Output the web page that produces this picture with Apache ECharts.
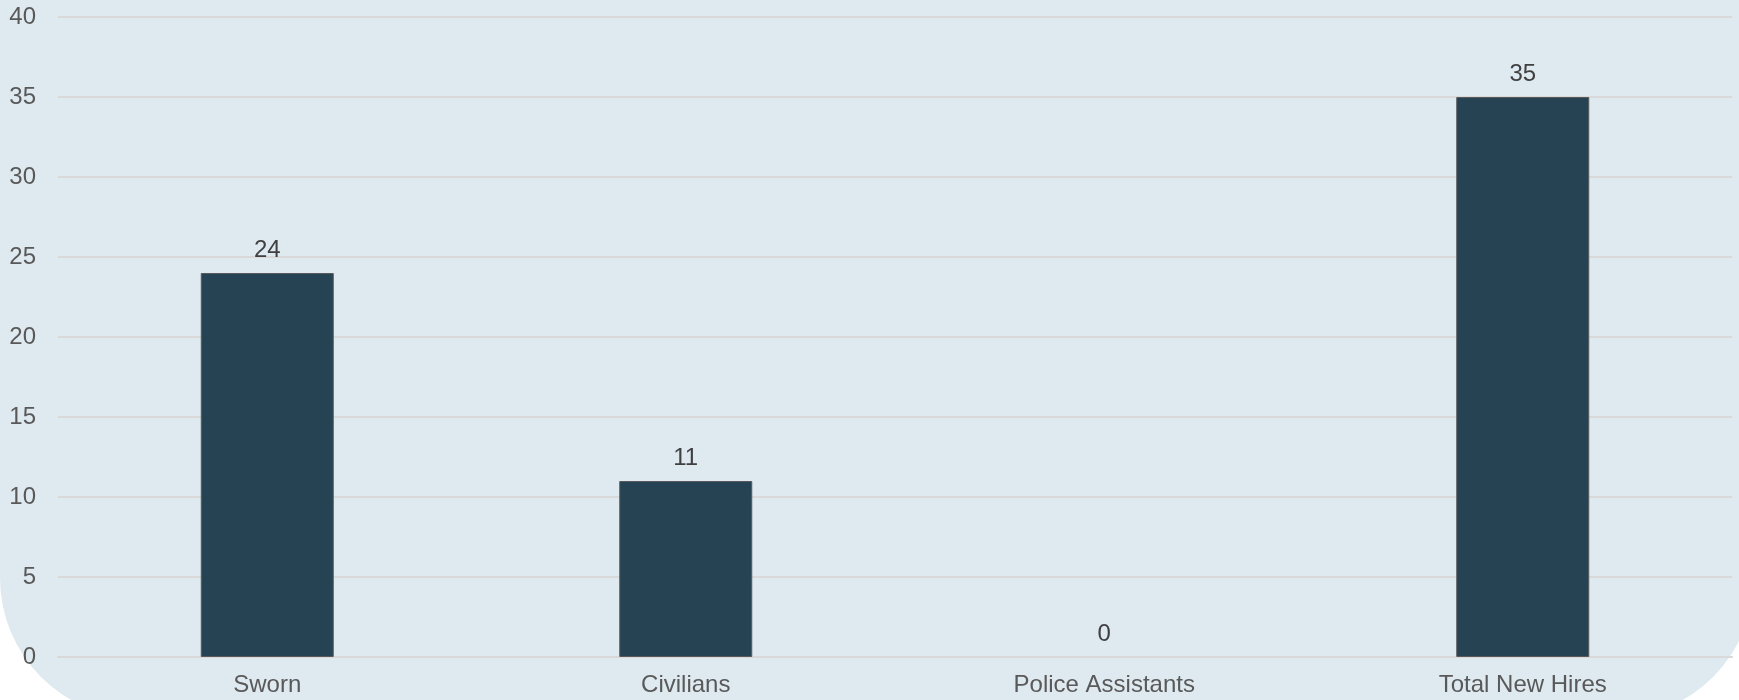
<!DOCTYPE html>
<html>
<head>
<meta charset="utf-8">
<script src="https://cdn.jsdelivr.net/npm/echarts@6/dist/echarts.min.js"></script>
<style>
  html, body { margin: 0; padding: 0; background: #ffffff; overflow: hidden; }
  #panel {
    position: absolute; left: 0; top: 0;
    width: 1754px; height: 718px;
    background: #dee9f0;
    border-radius: 0 0 140px 140px;
  }
  #chart { position: absolute; left: 0; top: 0; width: 1739px; height: 700px; }
</style>
</head>
<body>
<div id="panel"></div>
<div id="chart"></div>
<script>
// New hires by type
const categories = ['Sworn', 'Civilians', 'Police Assistants', 'Total New Hires'];
const hires = [24, 11, 0, 35];
const yTicks = { min: 0, max: 40, interval: 5 };

const chart = echarts.init(document.getElementById('chart'), null, { renderer: 'canvas' });

// Empty bars get no outline so a zero value leaves no mark on the axis
const barData = hires.map(v => ({
  value: v,
  itemStyle: { borderWidth: v === 0 ? 0 : 1 }
}));

chart.setOption({
  backgroundColor: 'transparent',
  animation: false,
  textStyle: { fontFamily: 'Liberation Sans, Arial, sans-serif' },
  grid: { left: 58, right: 7, top: 17, bottom: 43, containLabel: false },
  xAxis: {
    type: 'category',
    data: categories,
    axisLine: { show: true, lineStyle: { color: '#d9d9d9', width: 2 } },
    axisTick: { show: false },
    axisLabel: { color: '#595959', fontSize: 24, margin: 16 }
  },
  yAxis: {
    type: 'value',
    min: yTicks.min,
    max: yTicks.max,
    interval: yTicks.interval,
    axisLine: { show: false },
    axisTick: { show: false },
    splitLine: { lineStyle: { color: '#d9d9d9', width: 2 } },
    axisLabel: { color: '#595959', fontSize: 24, margin: 22 }
  },
  series: [{
    type: 'bar',
    data: barData,
    barWidth: 133,
    itemStyle: { color: '#264354', borderColor: '#595959', borderWidth: 1 },
    label: {
      show: true,
      position: 'top',
      distance: 11,
      color: '#404040',
      fontSize: 24
    }
  }]
});
</script>
</body>
</html>
